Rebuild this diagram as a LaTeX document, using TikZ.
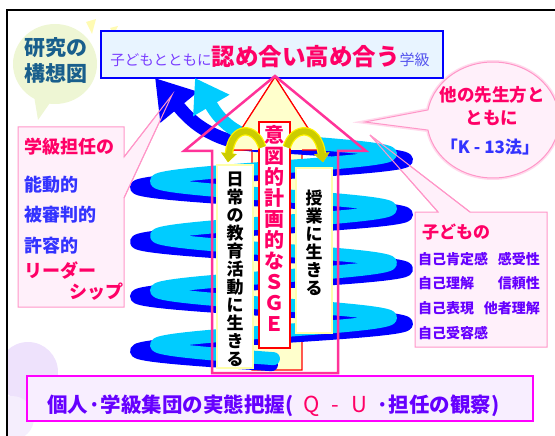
\documentclass[tikz,border=0pt]{standalone}
\usepackage{fontspec}
\setmainfont{Noto Sans CJK JP}
\usepackage{tikz}
\usetikzlibrary{arrows.meta, calc}

\definecolor{crimsontxt}{RGB}{255,0,102}
\definecolor{bluetxt}{RGB}{51,51,255}
\definecolor{purpletxt}{RGB}{102,0,255}
\definecolor{titlepurple}{RGB}{122,61,255}
\definecolor{titleblue}{RGB}{85,85,238}
\definecolor{tealtxt}{RGB}{25,95,140}
\definecolor{titleline}{RGB}{0,0,255}
\definecolor{titlefill}{RGB}{232,244,255}
\definecolor{calloutline}{RGB}{255,150,200}
\definecolor{calloutfill}{RGB}{255,240,250}
\definecolor{baseframe}{RGB}{255,0,255}
\definecolor{basefill}{RGB}{248,238,255}
\definecolor{arrowpink}{RGB}{255,51,153}
\definecolor{shaftfill}{RGB}{255,255,204}
\definecolor{boxedge}{RGB}{255,255,170}
\definecolor{coilblue}{RGB}{0,0,255}
\definecolor{coilcyan}{RGB}{0,204,255}
\definecolor{curlfill}{RGB}{204,204,0}
\definecolor{blobgreen}{RGB}{238,246,212}
\definecolor{bloblav}{RGB}{238,226,252}

\begin{document}
\begin{tikzpicture}[x=1pt, y=-1pt,
    coil/.style={line width=13pt, line cap=round, line join=round},
    callout/.style={draw=calloutline, line width=1pt, fill=calloutfill},
    curl/.style={line width=6pt, draw=curlfill, preaction={draw=yellow, line width=8.5pt},
                 -{Triangle[length=9pt, width=15pt]}},
    tatebox/.style={draw=boxedge, line width=1.5pt, fill=white, inner sep=0pt},
    tate/.style={align=center, inner sep=0pt, font=\bfseries\fontsize{17}{18}\selectfont},
    pop/.style={font=\bfseries\fontsize{18}{20}\selectfont, anchor=west, inner sep=0pt},
    mini/.style={font=\bfseries\fontsize{14}{16}\selectfont, text=purpletxt, inner sep=0pt}]

  \useasboundingbox (0,0) rectangle (555,436);
  \clip (0,0) rectangle (555,436);

  % ---- backdrop blobs ----
  \fill[blobgreen] (55,64) ellipse [x radius=42, y radius=40];
  \fill[blobgreen] (34,96) -- (38,120) -- (52,100) -- cycle;
  \fill[yellow!30] (86,22) -- (96,19) -- (92,34) -- cycle;
  \fill[yellow!30] (110,28) -- (118,26) -- (114,34) -- cycle;
  \begin{scope}
    \clip (7,10) rectangle (555,436);
    \fill[bloblav] (28,372) circle (30);
    \fill[bloblav!60] (12,418) circle (22);
  \end{scope}

  % ---- frame ----
  \draw[line width=1.8pt] (7,436) -- (7,10) -- (555,10);

  % ---- goal ----
  \node[text=tealtxt, align=center, font=\bfseries\fontsize{21}{26}\selectfont, inner sep=0pt] (plan) at (56,61) {研究の\\構想図};
  \node[draw=titleline, line width=2.5pt, fill=titlefill, minimum width=342pt, minimum height=47pt, inner sep=0pt] (goalbox) at (272,54.5) {};
  \node[inner sep=0pt] (goal) at (270,57) {{\color{titlepurple}\fontsize{14.5}{16}\selectfont 子どもとともに}{\color{crimsontxt}\bfseries\fontsize{23.5}{26}\selectfont 認め合い高め合う}{\color{titleblue}\fontsize{15}{16}\selectfont 学級}};

  % ---- callouts (under the coil) ----
  \filldraw[callout] (18,127) -- (124,127) -- (124,157) -- (172,95) -- (124,198) -- (124,307) -- (18,307) -- cycle;
  \filldraw[callout, preaction={draw=calloutline!35, line width=4pt}] (365,122) -- ([shift={(493,120)}]190:66 and 58) arc[start angle=190, end angle=530, x radius=66, y radius=58] -- cycle;
  \filldraw[callout] (415,212) -- (438,212) -- (370,135) -- (470,212) -- (547,212) -- (547,347) -- (415,347) -- cycle;

  % ---- shaft: yellow arrow ----
  \filldraw[fill=shaftfill, draw=red, line width=1.2pt] (275,77) -- (322,150) -- (302,150) -- (302,370) -- (252,370) -- (252,150) -- (228,150) -- cycle;

  % ---- coil: blue under cyan ----
  \draw[coil, coilblue, -{Triangle[length=38pt, width=46pt]}]
    plot[domain=-0.5*pi:7.5*pi, samples=260, variable=\t] ({271.5-135*cos(\t r)}, {351-27.3*\t/pi})
    .. controls (212,146) and (188,118) .. (155,78);
  \draw[coil, coilcyan, -{Triangle[length=32pt, width=40pt]}]
    plot[domain=-0.5*pi:7.5*pi, samples=260, variable=\t] ({273.5-117*cos(\t r)}, {345-27.3*\t/pi})
    .. controls (230,140) and (214,110) .. (195,78);

  % ---- arrow head in front of the coil ----
  \fill[shaftfill] (275,77) -- (322,150) -- (228,150) -- cycle;
  \draw[red, line width=1.2pt] (252,150) -- (228,150) -- (275,77) -- (322,150) -- (302,150);
  \draw[arrowpink, line width=2.5pt] (275,76) -- (366,151) -- (338,151) -- (338,373) -- (212,373) -- (212,151) -- (184,151) -- cycle;

  % ---- callout tails over the coil ----
  \draw[calloutline, line width=1pt] (124,157) -- (172,95) -- (124,198);
  \draw[calloutline, line width=1pt] (438,212) -- (370,135) -- (470,212);

  % ---- boxes on the shaft ----
  \node[tatebox, minimum width=36pt, minimum height=203pt] (dailybox) at (235,266.5) {};
  \node[tate] (daily) at (235,269) {日\\常\\の\\教\\育\\活\\動\\に\\生\\き\\る};
  \node[tatebox, minimum width=36pt, minimum height=165pt] (lessonbox) at (314,250.5) {};
  \node[tate] (lesson) at (314,243) {授\\業\\に\\生\\き\\る};
  \node[draw=red, line width=1.5pt, fill=white, minimum width=31pt, minimum height=226pt, inner sep=0pt] (sgebox) at (274.5,235) {};
  \node[tate, text=crimsontxt, font=\bfseries\fontsize{20}{21}\selectfont] (sge) at (274.5,228) {意\\図\\的\\計\\画\\的\\な\\Ｓ\\Ｇ\\Ｅ};

  \draw[curl] ($(sgebox.north west)+(4,26)$) .. controls (256,126) and (232,124) .. ($(dailybox.north)+(-7,-2)$);
  \draw[curl] ($(sgebox.north east)+(-4,26)$) .. controls (293,126) and (318,124) .. ($(lessonbox.north)+(9,-5)$);

  % ---- callout texts ----
  \node[pop, text=crimsontxt] (teacher) at (24,147) {学級担任の};
  \node[pop, text=bluetxt] (lead1) at (24,185) {能動的};
  \node[pop, text=bluetxt] (lead2) at (24,215) {被審判的};
  \node[pop, text=bluetxt] (lead3) at (24,246) {許容的};
  \node[pop, text=crimsontxt] (lead4) at (24,271) {リーダー};
  \node[pop, text=crimsontxt] (lead5) at (69,292) {シップ};

  \node[align=center, text=crimsontxt, font=\bfseries\fontsize{17.5}{23.5}\selectfont, inner sep=0pt] (peers) at (492,106) {他の先生方と\\ともに};
  \node[text=bluetxt, font=\bfseries\fontsize{17}{19}\selectfont, inner sep=0pt] (k13) at (490,147) {「K - 13法」};

  \node[pop, text=crimsontxt, font=\bfseries\fontsize{17}{19}\selectfont] (kids) at (422,232) {子どもの};
  \foreach \y/\l/\r [count=\i] in {259/自己肯定感/感受性, 283/自己理解/信頼性, 308/自己表現/他者理解, 333/自己受容感/{}} {
    \node[mini, anchor=west] (self\i) at (418,\y) {\l};
    \node[mini, anchor=east] (other\i) at (540,\y) {\r};
  }

  % ---- base ----
  \node[draw=baseframe, line width=2.5pt, fill=basefill, minimum width=506pt, minimum height=45pt, inner sep=0pt] (basebox) at (280,398.5) {};
  \node[inner sep=0pt, text=purpletxt, font=\bfseries\fontsize{20.5}{22}\selectfont] (base) at (273.5,406) {個人·学級集団の実態把握(\hspace{10pt}{\mdseries\color{crimsontxt}\fontsize{22}{24}\selectfont Q\hspace{12pt}-\hspace{12pt}U}\hspace{9pt}·担任の観察)};
\end{tikzpicture}
\end{document}
